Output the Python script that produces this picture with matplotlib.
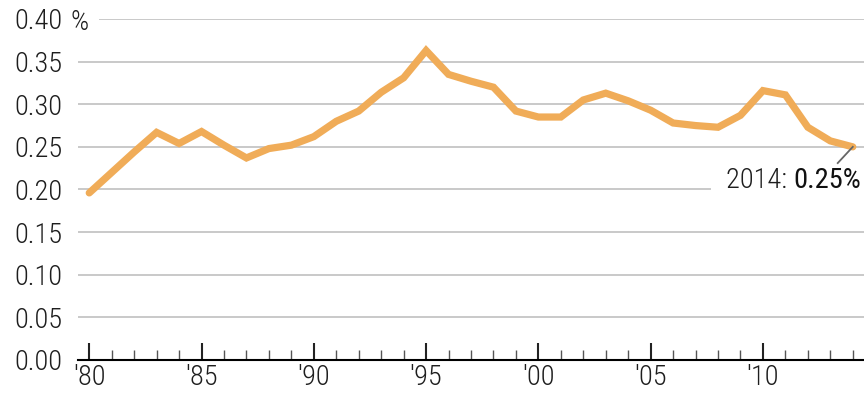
import matplotlib.pyplot as plt
from matplotlib.ticker import MultipleLocator, FixedLocator

years = list(range(1980, 2015))
rate = [0.196, 0.220, 0.244, 0.267, 0.254, 0.268, 0.252, 0.237, 0.248, 0.252,
        0.262, 0.280, 0.292, 0.314, 0.331, 0.363, 0.335, 0.327, 0.320, 0.292,
        0.285, 0.285, 0.305, 0.313, 0.304, 0.293, 0.278, 0.275, 0.273, 0.287,
        0.316, 0.311, 0.273, 0.257, 0.250]

y_ticks = [0.00, 0.05, 0.10, 0.15, 0.20, 0.25, 0.30, 0.35, 0.40]
x_major = [1980, 1985, 1990, 1995, 2000, 2005, 2010]
x_labels = ["'80", "'85", "'90", "'95", "'00", "'05", "'10"]

plt.rcParams["font.family"] = ["Roboto Condensed", "DejaVu Sans"]
plt.rcParams["font.weight"] = 300

line_color = "#f0ac58"
grid_color = "#c9c9c9"
text_color = "#1e1e1e"
fs = 20.5

fig = plt.figure(figsize=(8.64, 3.94), dpi=100)
ax = fig.add_axes([0.0903, 0.0863, 0.9097, 0.8655])

ax.set_xlim(1979.5, 2014.5)
ax.set_ylim(0, 0.40)

# gridlines by hand: the top one starts after the % sign,
# the 0.20 one stops short of the callout
for v in y_ticks[1:]:
    start = 0.028 if v == 0.40 else 0.0
    stop = 0.804 if v == 0.20 else 1.0
    ax.axhline(v, xmin=start, xmax=stop, color=grid_color, lw=1.4, zorder=1)

ax.plot(years, rate, color=line_color, lw=5.2, solid_joinstyle="miter",
        solid_capstyle="round", zorder=3)

for s in ["top", "right", "left"]:
    ax.spines[s].set_visible(False)
ax.spines["bottom"].set_linewidth(1.5)
ax.spines["bottom"].set_zorder(4)

ax.xaxis.set_major_locator(FixedLocator(x_major))
ax.set_xticklabels(x_labels)
ax.xaxis.set_minor_locator(MultipleLocator(1))
ax.tick_params(axis="x", which="major", direction="in", length=12, width=1.5,
               labelsize=fs, pad=3, color="#222222")
ax.tick_params(axis="x", which="minor", direction="in", length=7, width=1.0,
               color="#555555")

ax.set_yticks(y_ticks)
ax.set_yticklabels([f"{v:.2f}" for v in y_ticks])
ax.tick_params(axis="y", length=0, labelsize=fs, pad=11)
for lab in ax.get_xticklabels() + ax.get_yticklabels():
    lab.set_color(text_color)

fig.text(70 / 864, 1 - 22 / 394, "%", fontsize=fs, color=text_color,
         ha="left", va="center")

# end-of-series callout
ax.plot([2014, 2013.33], [0.250, 0.231], color="#666666", lw=1.3, zorder=5)
val = ax.text(2014.36, 0.211, "0.25%", fontsize=fs, color="#111111",
              fontweight=400, ha="right", va="center", zorder=6)
fig.canvas.draw()
left = ax.transData.inverted().transform(
    val.get_window_extent(fig.canvas.get_renderer()).get_points())[0][0]
ax.text(left, 0.211, "2014: ", fontsize=fs, color=text_color, ha="right",
        va="center", zorder=6)

fig.savefig("out.png", dpi=100)
